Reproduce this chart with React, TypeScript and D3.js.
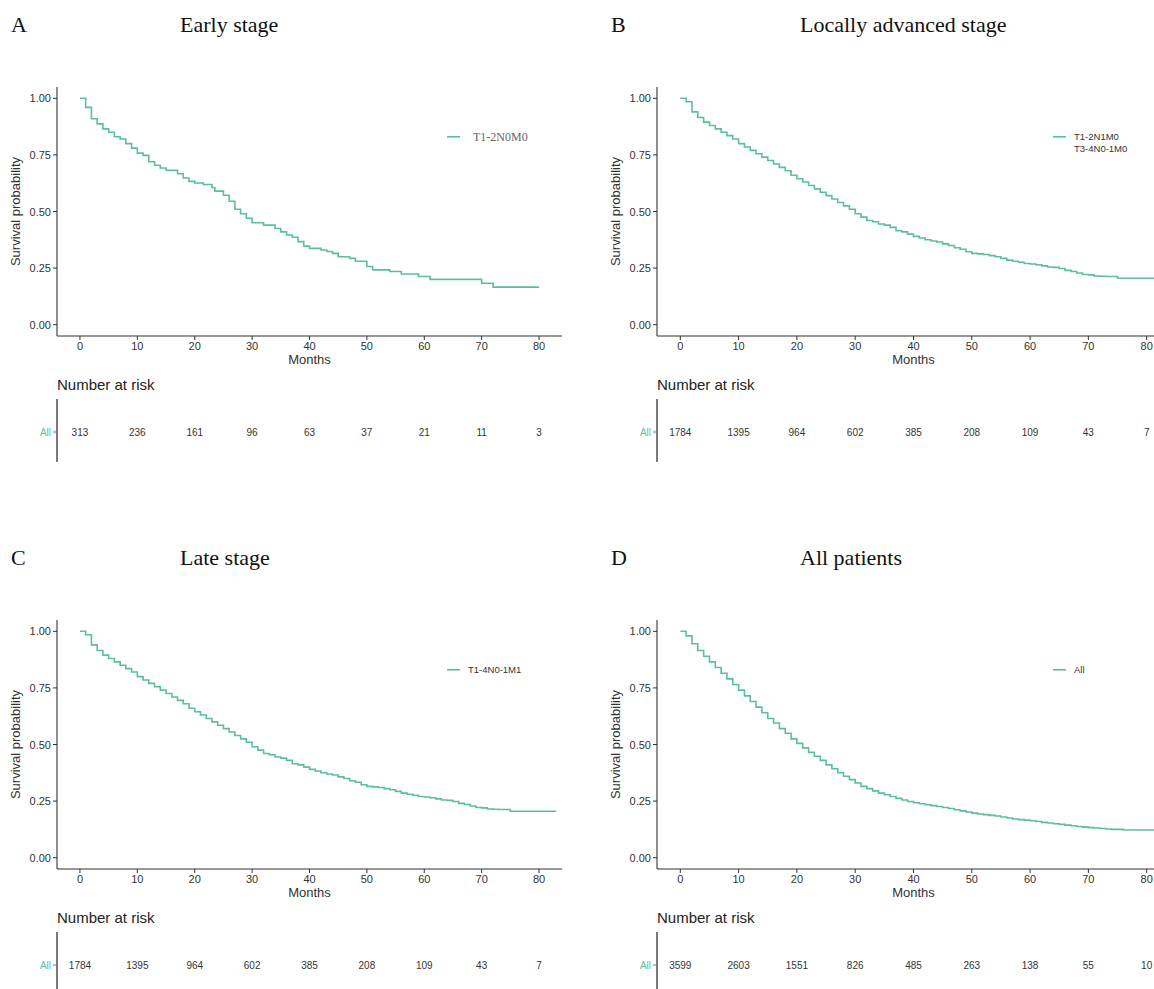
import React from "react";
import * as d3 from "d3";

// ---------- data ----------
const xTicks = [0, 10, 20, 30, 40, 50, 60, 70, 80];
const yTicks = [0, 0.25, 0.5, 0.75, 1];

const earlyTimes = [0,1,2,3,4,5,6,7,8,9,10,11,12,13,14,15,17,18,19,20,21.5,23,23.5,25,26,27,28,29,30,32,34,35,36,37,38,39,40,42,43,44,45,47,48,50,51,54,56,59,61,70,72,80];
const earlySurv = [1.00,0.96,0.91,0.887,0.865,0.85,0.83,0.82,0.80,0.78,0.758,0.748,0.72,0.704,0.692,0.682,0.667,0.648,0.633,0.626,0.619,0.606,0.59,0.572,0.545,0.51,0.49,0.47,0.45,0.44,0.425,0.41,0.396,0.386,0.367,0.347,0.337,0.33,0.323,0.315,0.30,0.293,0.28,0.257,0.242,0.235,0.224,0.213,0.20,0.183,0.166,0.166];
const earlyRisk = [313, 236, 161, 96, 63, 37, 21, 11, 3];

const advTimes = [0,1,2,3,4,5,6,7,8,9,10,11,12,13,14,15,16,17,18,19,20,21,22,23,24,25,26,27,28,29,30,31,32,33,34,35,36,37,38,39,40,41,42,43,44,45,46,47,48,49,50,51,52,53,54,55,56,57,58,59,60,61,62,63,64,65,66,67,68,69,70,71,72,73,75,83];
const advSurv = [1.00,0.985,0.94,0.915,0.895,0.88,0.865,0.85,0.835,0.82,0.80,0.785,0.77,0.755,0.74,0.725,0.71,0.695,0.68,0.66,0.645,0.63,0.615,0.60,0.585,0.57,0.555,0.54,0.525,0.51,0.49,0.475,0.46,0.455,0.445,0.44,0.43,0.415,0.41,0.40,0.39,0.383,0.375,0.37,0.365,0.357,0.35,0.34,0.333,0.322,0.315,0.313,0.31,0.305,0.30,0.293,0.285,0.28,0.276,0.27,0.268,0.265,0.26,0.255,0.253,0.248,0.24,0.235,0.228,0.222,0.22,0.215,0.214,0.213,0.205,0.205];
const advRisk = [1784, 1395, 964, 602, 385, 208, 109, 43, 7];

const lateTimes = [0,1,2,3,4,5,6,7,8,9,10,11,12,13,14,15,16,17,18,19,20,21,22,23,24,25,26,27,28,29,30,31,32,33,34,35,36,37,38,39,40,41,42,43,44,45,46,47,48,49,50,51,52,53,54,55,56,57,58,59,60,61,62,63,64,65,66,67,68,69,70,71,72,73,75,83];
const lateSurv = [1.00,0.985,0.94,0.915,0.895,0.88,0.865,0.85,0.835,0.82,0.80,0.785,0.77,0.755,0.74,0.725,0.71,0.695,0.68,0.66,0.645,0.63,0.615,0.60,0.585,0.57,0.555,0.54,0.525,0.51,0.49,0.475,0.46,0.455,0.445,0.44,0.43,0.415,0.41,0.40,0.39,0.383,0.375,0.37,0.365,0.357,0.35,0.34,0.333,0.322,0.315,0.313,0.31,0.305,0.30,0.293,0.285,0.28,0.276,0.27,0.268,0.265,0.26,0.255,0.253,0.248,0.24,0.235,0.228,0.222,0.22,0.215,0.214,0.213,0.205,0.205];
const lateRisk = [1784, 1395, 964, 602, 385, 208, 109, 43, 7];

const allTimes = [0,1,2,3,4,5,6,7,8,9,10,11,12,13,14,15,16,17,18,19,20,21,22,23,24,25,26,27,28,29,30,31,32,33,34,35,36,37,38,39,40,41,42,43,44,45,46,47,48,49,50,51,52,53,54,55,56,57,58,59,60,61,62,63,64,65,66,67,68,69,70,71,72,73,74,76,83];
const allSurv = [1.00,0.98,0.945,0.915,0.89,0.865,0.84,0.815,0.79,0.765,0.74,0.715,0.69,0.665,0.64,0.615,0.595,0.57,0.55,0.525,0.505,0.485,0.465,0.448,0.43,0.41,0.393,0.375,0.36,0.345,0.33,0.315,0.305,0.295,0.285,0.278,0.27,0.262,0.255,0.248,0.243,0.238,0.234,0.23,0.226,0.222,0.217,0.212,0.207,0.202,0.197,0.193,0.19,0.187,0.184,0.18,0.175,0.171,0.168,0.166,0.163,0.16,0.156,0.153,0.15,0.147,0.144,0.141,0.138,0.135,0.133,0.131,0.129,0.127,0.125,0.122,0.122];
const allRisk = [3599, 2603, 1551, 826, 485, 263, 138, 55, 10];

const panelLetters = ["A", "B", "C", "D"];
const panelTitles = ["Early stage", "Locally advanced stage", "Late stage", "All patients"];
const legendLabels = [["T1-2N0M0"], ["T1-2N1M0", "T3-4N0-1M0"], ["T1-4N0-1M1"], ["All"]];
const riskRowLabel = "All";

const COLOR = "#5bbf9e";
const SANS = "'Liberation Sans', Arial, Helvetica, sans-serif";
const SERIF = "'Liberation Serif', 'Times New Roman', serif";

type PanelProps = {
  ox: number; oy: number; width: number;
  letter: string; title: string; titleX: number;
  times: number[]; surv: number[]; risk: number[];
  legend: string[]; legendX: number; legendSerif: boolean;
};

function Panel(p: PanelProps) {
  const left = p.ox + 57;
  const right = left + p.width;
  const top = p.oy + 87;
  const bottom = p.oy + 336;
  const x = d3.scaleLinear().domain([-4, 84]).range([left, right]);
  const y = d3.scaleLinear().domain([-0.05, 1.05]).range([bottom, top]);
  const pts: [number, number][] = p.times.map((t, i) => [t, p.surv[i]]);
  const line = d3.line<[number, number]>()
    .x((d) => x(d[0]))
    .y((d) => y(d[1]))
    .curve(d3.curveStepAfter);
  const ax = "#333";
  const legY = y(0.83);
  return (
    <g>
      <text x={p.ox + 11} y={p.oy + 32} fontFamily={SERIF} fontSize={22} fill="#111">{p.letter}</text>
      <text x={p.titleX} y={p.oy + 32} fontFamily={SERIF} fontSize={22} fill="#111">{p.title}</text>

      {/* axes */}
      <line x1={left} x2={left} y1={top} y2={bottom} stroke={ax} strokeWidth={1.1} />
      <line x1={left} x2={right} y1={bottom} y2={bottom} stroke={ax} strokeWidth={1.1} />
      {yTicks.map((t) => (
        <g key={"y" + t}>
          <line x1={left - 4} x2={left} y1={y(t)} y2={y(t)} stroke={ax} strokeWidth={1} />
          <text x={left - 6} y={y(t) + 4} textAnchor="end" fontFamily={SANS} fontSize={11} fill="#333">{t.toFixed(2)}</text>
        </g>
      ))}
      {xTicks.map((t) => (
        <g key={"x" + t}>
          <line x1={x(t)} x2={x(t)} y1={bottom} y2={bottom + 4} stroke={ax} strokeWidth={1} />
          <text x={x(t)} y={bottom + 14} textAnchor="middle" fontFamily={SANS} fontSize={11} fill="#333">{t}</text>
        </g>
      ))}
      <text transform={`translate(${left - 37},${(top + bottom) / 2}) rotate(-90)`} textAnchor="middle" fontFamily={SANS} fontSize={13} fill="#333">Survival probability</text>
      <text x={(left + right) / 2} y={bottom + 28} textAnchor="middle" fontFamily={SANS} fontSize={13} fill="#333">Months</text>

      {/* curve */}
      <path d={line(pts) || ""} fill="none" stroke={COLOR} strokeWidth={1.6} />

      {/* legend */}
      <line x1={p.legendX} x2={p.legendX + 13} y1={legY} y2={legY} stroke={COLOR} strokeWidth={1.6} />
      {p.legend.map((s, i) => (
        <text key={s} x={p.legendX + (p.legendSerif ? 26 : 21)} y={legY + (p.legendSerif ? 4 : 3.5) + i * 12}
          fontFamily={p.legendSerif ? SERIF : SANS} fontSize={p.legendSerif ? 12 : 9.5}
          fill={p.legendSerif ? "#666" : "#333"}>{s}</text>
      ))}

      {/* risk table */}
      <text x={left} y={p.oy + 390} fontFamily={SANS} fontSize={15} fill="#222">Number at risk</text>
      <line x1={left} x2={left} y1={p.oy + 399} y2={p.oy + 462} stroke={ax} strokeWidth={1.3} />
      <line x1={left - 4} x2={left} y1={p.oy + 432} y2={p.oy + 432} stroke="#777" strokeWidth={1} />
      <text x={left - 6} y={p.oy + 435.5} textAnchor="end" fontFamily={SANS} fontSize={10} fill={COLOR}>{riskRowLabel}</text>
      {p.risk.map((r, i) => (
        <text key={"r" + i} x={x(xTicks[i])} y={p.oy + 435.5} textAnchor="middle" fontFamily={SANS} fontSize={10} fill="#333">{r}</text>
      ))}
    </g>
  );
}

export default function App() {
  const rowOff = 533;
  return (
    <div style={{ position: "absolute", left: 0, top: 0 }}>
      <svg width={1154} height={989} style={{ display: "block", background: "#fff" }}>
        <rect width={1154} height={989} fill="#fff" />
        <Panel ox={0} oy={0} width={505} letter={panelLetters[0]} title={panelTitles[0]} titleX={180}
          times={earlyTimes} surv={earlySurv} risk={earlyRisk} legend={legendLabels[0]} legendX={447} legendSerif={true} />
        <Panel ox={600} oy={0} width={513} letter={panelLetters[1]} title={panelTitles[1]} titleX={800}
          times={advTimes} surv={advSurv} risk={advRisk} legend={legendLabels[1]} legendX={1053} legendSerif={false} />
        <Panel ox={0} oy={rowOff} width={505} letter={panelLetters[2]} title={panelTitles[2]} titleX={180}
          times={lateTimes} surv={lateSurv} risk={lateRisk} legend={legendLabels[2]} legendX={447} legendSerif={false} />
        <Panel ox={600} oy={rowOff} width={513} letter={panelLetters[3]} title={panelTitles[3]} titleX={800}
          times={allTimes} surv={allSurv} risk={allRisk} legend={legendLabels[3]} legendX={1053} legendSerif={false} />
      </svg>
    </div>
  );
}
